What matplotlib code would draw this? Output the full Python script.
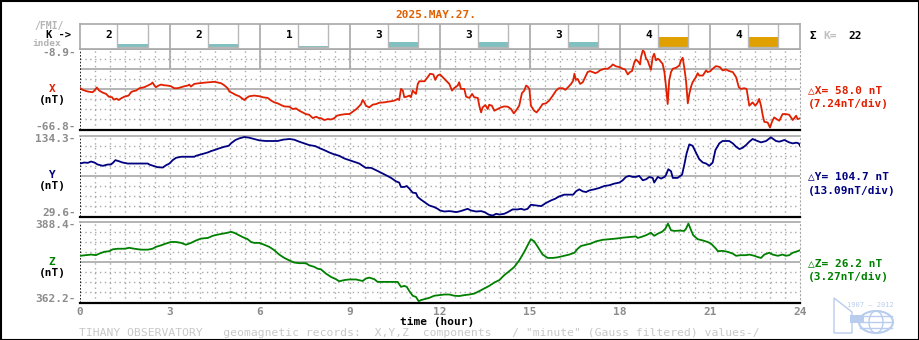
import numpy as np
import matplotlib
matplotlib.use("Agg")
import matplotlib.pyplot as plt
from matplotlib.patches import Rectangle, Ellipse, Polygon

# --- data -------------------------------------------------------------
day_label = "2025.MAY.27."
k_index = [2, 2, 1, 3, 3, 3, 4, 4]          # one value per 3-hour interval
hour_ticks = [0, 3, 6, 9, 12, 15, 18, 21, 24]

x_range = (-66.8, -8.9)
y_range = (29.6, 134.3)
z_range = (362.2, 388.4)
deltas = [58.0, 104.7, 26.2]               # nT, as printed by the recorder
per_div = [7.24, 13.09, 3.27]              # nT/div

x_hour = [0.00, 0.09, 0.26, 0.42, 0.48, 0.56, 0.64, 0.76, 0.87, 0.96, 1.07, 1.12, 1.22, 1.29, 1.37,
          1.48, 1.62, 1.70, 1.76, 1.87, 1.98, 2.14, 2.26, 2.37, 2.42, 2.48, 2.53, 2.62, 2.70, 2.81,
          2.92, 3.03, 3.14, 3.26, 3.37, 3.48, 3.59, 3.64, 3.70, 3.81, 3.98, 4.20, 4.48, 4.59, 4.70,
          4.81, 4.92, 4.98, 5.09, 5.20, 5.31, 5.40, 5.48, 5.53, 5.64, 5.81, 5.98, 6.09, 6.26, 6.37,
          6.48, 6.59, 6.70, 6.81, 6.98, 7.09, 7.20, 7.31, 7.42, 7.53, 7.64, 7.76, 7.87, 7.96,
          8.03, 8.14, 8.26, 8.37, 8.48, 8.56, 8.70, 8.87, 8.98, 9.09, 9.20, 9.29, 9.37, 9.42, 9.48,
          9.53, 9.64, 9.76, 9.87, 9.98, 10.14, 10.26, 10.37, 10.48, 10.59, 10.64, 10.70, 10.76,
          10.81, 10.89, 10.98, 11.03, 11.09, 11.14, 11.20, 11.26, 11.31, 11.48, 11.59, 11.67, 11.78,
          11.84, 11.92, 12.00, 12.09, 12.20, 12.31, 12.40, 12.48, 12.59, 12.64, 12.70, 12.81, 12.87,
          12.98, 13.07, 13.14, 13.26, 13.31, 13.37, 13.42, 13.51, 13.59, 13.64, 13.73, 13.81, 13.92,
          14.03, 14.14, 14.26, 14.37, 14.46, 14.53, 14.64, 14.73, 14.81, 14.87, 14.92, 14.98, 15.03,
          15.14, 15.22, 15.31, 15.42, 15.53, 15.64, 15.76, 15.87,
          15.96, 16.09, 16.18, 16.29, 16.37, 16.44, 16.48, 16.53, 16.59, 16.67, 16.76, 16.84, 16.92,
          17.00, 17.09, 17.18, 17.26, 17.33, 17.48, 17.59, 17.70, 17.76, 17.87, 17.98, 18.09, 18.17,
          18.26, 18.33, 18.40, 18.48, 18.53, 18.62, 18.67, 18.70, 18.76, 18.81, 18.87, 18.92, 18.98,
          19.03, 19.09, 19.14, 19.20, 19.26, 19.31, 19.37, 19.42, 19.48, 19.53, 19.59, 19.64, 19.70,
          19.76, 19.87, 19.98, 20.03, 20.09, 20.14, 20.20, 20.26, 20.31, 20.37, 20.42, 20.53, 20.59,
          20.64, 20.76, 20.87, 20.92, 21.00, 21.09, 21.20, 21.33, 21.42, 21.53, 21.64, 21.76, 21.87,
          21.96, 22.03, 22.14, 22.22, 22.31, 22.42, 22.51, 22.59, 22.64, 22.70, 22.76, 22.81, 22.92,
          23.00, 23.07, 23.14, 23.22, 23.31, 23.42, 23.53, 23.64, 23.76, 23.87, 23.92, 24.00]
x_nt = [-36.9, -38.3, -39.5, -40.0, -38.8, -36.6, -38.8, -40.3, -41.2, -43.2, -43.6, -45.3, -44.6, -45.6, -44.4,
        -43.2, -42.4, -40.0, -39.3, -38.8, -37.1, -36.4, -35.2, -34.0, -33.0, -35.2, -36.4, -35.2, -34.5, -35.0,
        -35.2, -35.7, -37.1, -37.1, -36.4, -35.7, -35.2, -34.5, -35.9, -34.0, -33.5, -33.0, -32.5, -33.0, -33.5,
        -35.0, -37.1, -39.5, -40.7, -42.0, -42.9, -44.4, -45.6, -44.4, -42.9, -42.4, -42.9, -43.6, -44.1, -46.0,
        -47.3, -48.0, -49.2, -50.2, -50.4, -52.1, -51.6, -53.3, -54.5, -55.7, -56.2, -58.6, -57.6, -58.6,
        -58.6, -60.0, -59.3, -59.6, -58.6, -56.9, -56.2, -55.7, -55.7, -54.0, -52.3, -50.4, -48.5, -45.6, -47.3,
        -49.7, -50.9, -48.9, -48.5, -47.5, -47.3, -46.8, -46.5, -46.0, -44.8, -45.6, -37.6, -38.8,
        -43.6, -43.2, -42.4, -43.6, -38.8, -40.0, -41.2, -34.0, -32.1, -32.1, -29.2, -26.7, -27.2,
        -31.1, -28.0, -27.2, -29.2, -31.6, -34.0, -38.8, -36.9, -35.2, -32.8, -37.6, -37.6, -43.2,
        -44.1, -41.2, -43.6, -44.1, -49.7, -54.5, -50.9, -49.2, -52.1, -49.0, -49.7, -53.3, -52.1,
        -50.9, -50.2, -50.4, -52.1, -55.2, -53.3, -49.7, -40.7, -38.8, -35.2, -35.9, -37.6, -49.7,
        -53.3, -54.5, -52.1, -48.5, -48.0, -46.0, -42.4, -38.8,
        -37.1, -37.1, -38.3, -35.9, -34.0, -31.6, -26.7, -31.1, -30.4, -34.0, -32.8, -29.2, -25.5,
        -24.8, -25.5, -26.3, -25.5, -24.3, -23.1, -23.1, -21.4, -20.0, -21.4, -21.9, -23.1, -23.6,
        -27.2, -25.5, -24.8, -18.3, -16.4, -18.3, -20.0, -14.7, -9.9, -11.1, -15.9, -17.1, -20.7,
        -23.9, -14.7, -12.3, -17.1, -15.9, -16.6, -18.3, -19.5, -25.5, -35.2, -48.5, -31.6, -25.5,
        -23.1, -22.4, -20.7, -17.1, -15.2, -21.9, -31.6, -48.0, -41.2, -35.9, -32.8, -29.2, -26.3,
        -28.0, -28.0, -24.3, -25.5, -25.0, -23.1, -21.2, -21.9, -24.3, -23.6, -24.8, -25.5, -29.2,
        -36.4, -37.6, -37.1, -37.6, -49.7, -47.3, -49.7, -47.3, -44.8, -49.7, -56.9, -61.3, -61.7,
        -65.4, -61.0, -58.1, -59.3, -60.5, -55.7, -55.7, -56.2, -60.0, -56.9, -59.3, -58.8]

y_hour = [0.00, 0.14, 0.26, 0.37, 0.48, 0.59, 0.76, 0.92, 1.03, 1.11, 1.18, 1.29, 1.42, 1.59, 1.76,
          1.98, 2.26, 2.31, 2.44, 2.59, 2.76, 2.87, 2.98, 3.09, 3.20, 3.37, 3.53, 3.81, 3.87, 4.03,
          4.26, 4.37, 4.48, 4.64, 4.81, 4.96, 5.03, 5.18, 5.31, 5.48, 5.64, 5.81, 5.98, 6.20, 6.42,
          6.59, 6.76, 6.98, 7.14, 7.31, 7.48, 7.64, 7.84, 7.98, 8.14, 8.31, 8.48, 8.64, 8.81, 8.98,
          9.14, 9.31, 9.42, 9.53, 9.70, 9.87, 10.03, 10.20, 10.37, 10.53, 10.64, 10.70, 10.81, 10.89,
          10.98, 11.09, 11.20, 11.26, 11.37, 11.48, 11.64, 11.81, 11.92, 12.00, 12.14, 12.31, 12.42,
          12.53, 12.64, 12.76, 12.92, 13.03, 13.20, 13.37, 13.48, 13.64, 13.76, 13.87, 13.98, 14.14,
          14.26, 14.42, 14.59, 14.70, 14.81, 14.92, 15.03, 15.20, 15.37, 15.53, 15.70, 15.84, 15.96,
          16.07, 16.14, 16.31, 16.44, 16.53, 16.64, 16.76, 16.87, 16.98, 17.14, 17.31, 17.48, 17.64,
          17.81, 17.98, 18.09, 18.20, 18.31, 18.42, 18.53, 18.64, 18.76, 18.87, 18.98, 19.09, 19.14,
          19.26, 19.37, 19.48, 19.53, 19.61, 19.70, 19.76, 19.92, 20.07, 20.14, 20.22, 20.31, 20.42,
          20.53, 20.64, 20.76, 20.87, 20.98, 21.09, 21.18, 21.31, 21.42, 21.64, 21.76, 21.87, 21.98,
          22.09, 22.20, 22.31, 22.42, 22.53, 22.70, 22.87, 23.03, 23.20, 23.31, 23.48, 23.64, 23.76,
          23.87, 23.96, 24.00]
y_nt = [98.5, 99.8, 99.4, 101.1, 99.8, 97.2, 95.5, 97.2, 97.2, 99.8, 102.9, 101.6, 99.8, 98.5, 98.5,
        98.5, 98.5, 97.2, 95.5, 93.7, 93.3, 96.3, 98.5, 102.9, 105.9, 107.3, 107.3, 107.3, 108.6, 110.3,
        112.9, 114.7, 116.0, 118.2, 120.3, 121.6, 124.7, 129.1, 131.2, 133.0, 132.1, 130.4, 128.6, 127.8, 127.8,
        127.8, 129.5, 130.4, 129.5, 126.9, 124.7, 122.5, 121.2, 118.6, 116.0, 112.9, 110.3, 108.6, 105.1, 102.9,
        100.7, 98.5, 95.5, 92.9, 92.9, 89.8, 86.7, 83.3, 79.8, 75.4, 73.7, 68.0, 68.0, 69.3,
        65.8, 60.6, 60.1, 54.9, 51.4, 48.4, 44.0, 41.8, 39.6, 37.5, 36.1, 36.6, 36.1,
        35.3, 36.1, 37.5, 39.6, 37.5, 36.1, 36.6, 35.3, 31.8, 30.9, 33.1, 32.2, 33.1,
        35.3, 38.8, 38.8, 39.6, 38.3, 39.6, 44.9, 44.0, 43.1, 47.1, 50.5, 52.7, 55.5,
        57.1, 58.0, 58.0, 58.0, 62.3, 64.9, 62.3, 61.4, 63.6, 64.9, 66.7, 69.3, 70.2,
        72.4, 73.7, 76.7, 81.1, 82.4, 81.1, 81.1, 82.4, 76.7, 78.0, 81.1, 79.8, 73.7,
        81.1, 78.9, 81.1, 83.3, 91.1, 88.5, 79.8, 79.8, 84.1, 96.3, 111.6, 123.4, 121.6,
        112.9, 104.2, 99.8, 98.5, 95.5, 99.8, 116.0, 124.7, 127.8, 127.8, 124.7, 120.3, 117.3,
        119.0, 122.5, 126.9, 130.4, 128.6, 126.0, 127.8, 132.6, 127.8, 126.9, 129.1, 126.0, 124.7,
        125.6, 124.7, 121.6]

z_hour = [0.00, 0.20, 0.37, 0.53, 0.64, 0.81, 0.98, 1.09, 1.26, 1.48, 1.64, 1.81, 2.03, 2.26, 2.42,
          2.53, 2.70, 2.87, 3.03, 3.20, 3.37, 3.53, 3.70, 3.87, 4.03, 4.26, 4.42, 4.59, 4.76, 4.92,
          5.03, 5.14, 5.26, 5.42, 5.59, 5.70, 5.81, 5.98, 6.14, 6.31, 6.48, 6.64, 6.81, 6.98, 7.14,
          7.31, 7.53, 7.64, 7.81, 7.92, 8.03, 8.20, 8.37, 8.53, 8.64, 8.81, 8.98, 9.20, 9.42, 9.53,
          9.64, 9.81, 9.92, 10.09, 10.26, 10.48, 10.59, 10.70, 10.81, 10.89, 10.98, 11.09, 11.20,
          11.29, 11.37, 11.48, 11.64, 11.81, 11.98, 12.14, 12.31, 12.48, 12.64, 12.81, 12.98, 13.14,
          13.31, 13.48, 13.64, 13.81, 13.98, 14.14, 14.31, 14.48, 14.64, 14.81, 14.92, 15.03, 15.14,
          15.26, 15.42, 15.59, 15.76, 15.92, 16.09, 16.31, 16.48, 16.59, 16.70, 16.87, 17.03, 17.20,
          17.42, 17.64, 17.87, 18.09, 18.31, 18.53, 18.59, 18.70, 18.87, 19.03, 19.14, 19.26, 19.40,
          19.51, 19.60, 19.70, 19.81, 19.98, 20.14, 20.20, 20.28, 20.37, 20.44, 20.59, 20.76, 20.92,
          21.03, 21.20, 21.26, 21.42, 21.59, 21.76, 21.87, 22.03, 22.20, 22.31, 22.48, 22.59, 22.70,
          22.81, 22.98, 23.09, 23.26, 23.42, 23.53, 23.64, 23.76, 23.92, 24.00]
z_nt = [377.4, 377.6, 377.8, 377.6, 378.1, 378.7, 378.9, 379.5, 379.7, 379.7, 380.0, 379.7, 379.4, 379.4, 379.7,
        380.3, 380.8, 381.4, 381.9, 381.9, 381.6, 381.0, 381.6, 382.4, 383.0, 383.2, 383.9, 384.3, 384.6, 384.9,
        385.2, 384.9, 384.3, 383.5, 382.8, 381.9, 381.6, 381.6, 381.0, 380.3, 379.2, 377.8, 376.7, 375.9, 375.2,
        375.0, 375.0, 374.3, 373.8, 373.2, 373.0, 371.6, 370.5, 369.8, 369.1, 369.5, 369.7, 369.7, 369.2, 370.0,
        370.3, 369.8, 368.9, 368.9, 368.9, 368.9, 368.9, 367.3, 367.6, 367.3, 365.9, 364.4, 364.0,
        362.6, 363.0, 363.3, 363.7, 364.4, 364.6, 364.8, 364.8, 364.4, 364.3, 364.6, 364.8, 365.1,
        365.9, 366.8, 367.6, 368.7, 369.5, 371.1, 372.4, 373.8, 375.9, 378.7, 380.8, 382.8, 382.1,
        380.3, 377.8, 376.7, 376.7, 376.9, 377.3, 377.8, 378.4, 379.7, 380.6, 381.0, 381.4, 382.1,
        382.6, 382.8, 383.0, 383.3, 383.5, 383.7, 383.2, 383.5, 384.1, 384.9, 383.9, 384.6, 385.2,
        386.2, 387.9, 385.7, 385.5, 385.6, 385.5, 386.2, 387.9, 385.7, 384.1, 382.8, 382.4, 381.9,
        381.4, 379.7, 378.9, 379.0, 378.7, 378.1, 377.4, 377.6, 377.6, 377.8, 377.4, 377.0, 376.7,
        377.8, 378.4, 377.8, 377.4, 377.8, 377.4, 377.6, 378.4, 378.9, 379.2]

# --- layout (pixels, origin top-left) ---------------------------------
W, H = 920, 340
GRID = "#A8A8A8"
TICK = "#8C8C8C"
DOT = (0, (1, 2.5))
FS = 8

plt.rcParams["font.family"] = ["DejaVu Sans Mono", "DejaVu Sans"]
plt.rcParams["font.weight"] = "bold"

fig = plt.figure(figsize=(W / 100, H / 100), dpi=100)


def box(x0, y0, x1, y1):
    return [x0 / W, 1 - y1 / H, (x1 - x0) / W, (y1 - y0) / H]


def panel(rect, hours, vals, rng, color, solid_divs=(4,)):
    ax = fig.add_axes(box(*rect))
    lo, hi = rng
    div = (hi - lo) / 8
    for i in range(1, 8):
        if i in solid_divs:
            ax.axhline(lo + i * div, color=GRID, lw=1.2, zorder=1)
        else:
            ax.axhline(lo + i * div, color=GRID, lw=1, ls=DOT, zorder=1)
    for h in np.arange(0.5, 24, 0.5):
        ax.axvline(h, color=GRID, lw=1, ls=DOT, zorder=1)
    ax.axvline(0, color="black", lw=1.2, ls=(0, (1, 1)), zorder=2)
    ax.plot(hours, vals, color=color, lw=1.3, zorder=3)
    ax.set_xlim(0, 24)
    ax.set_ylim(lo, hi)
    ax.spines["top"].set_color(GRID)
    ax.spines["top"].set_linewidth(1.2)
    ax.spines["bottom"].set_color("black")
    ax.spines["bottom"].set_linewidth(1.6)
    ax.spines["left"].set_visible(False)
    ax.spines["right"].set_color(GRID)
    ax.spines["right"].set_linestyle(DOT)
    ax.set_yticks([])
    ax.set_xticks([])
    # range labels sit just inside the top and bottom lines
    ax.annotate(f"{hi:.1f}-", (0, 1), xycoords="axes fraction", xytext=(-4, -3.5),
                textcoords="offset pixels", ha="right", va="center", fontsize=FS, color=TICK)
    ax.annotate(f"{lo:.1f}-", (0, 0), xycoords="axes fraction", xytext=(-4, 3),
                textcoords="offset pixels", ha="right", va="center", fontsize=FS, color=TICK)
    return ax


ax_x = panel((80, 49, 800, 129.5), x_hour, x_nt, x_range, "#E02000", solid_divs=(4, 6))
ax_x.vlines(hour_ticks[1:-1], x_range[0] + 6 * (x_range[1] - x_range[0]) / 8, x_range[1],
            color=GRID, lw=1.2, zorder=1)
ax_y = panel((80, 136, 800, 216.5), y_hour, y_nt, y_range, "#000080")
ax_z = panel((80, 222, 800, 302.5), z_hour, z_nt, z_range, "#008000")
ax_z.set_xticks(hour_ticks)
ax_z.set_xticklabels([str(h) for h in hour_ticks])
ax_z.tick_params(axis="x", length=0, pad=3.5, labelsize=FS, labelcolor=TICK)

# K-index strip
ax_k = fig.add_axes(box(80, 24, 800, 49))
ax_k.set_xlim(0, 24)
ax_k.set_ylim(25, 0)
ax_k.set_xticks([])
ax_k.set_yticks([])
for s in ax_k.spines.values():
    s.set_color(GRID)
    s.set_linewidth(1.2)
k_limits = [0, 5, 10, 20, 40, 70, 120, 200, 330, 500]
for i, k in enumerate(k_index):
    x0 = 3 * i
    if i:
        ax_k.axvline(x0, color=GRID, lw=1.2)
    ax_k.text(x0 + 0.97, 11.5, str(k), ha="center", va="center", fontsize=FS, color="black")
    hgt = k_limits[k] * 0.24
    ax_k.add_patch(Rectangle((x0 + 1.25, 22.7 - hgt), 1, hgt,
                             color="#E0A000" if k >= 4 else "#80C0C0", lw=0))
    ax_k.add_patch(Rectangle((x0 + 1.25, -1), 1, 23.7, fill=False, ec="#B8B8B8", lw=1))

# free text, frame and logo on a transparent overlay in pixel units
ov = fig.add_axes([0, 0, 1, 1], facecolor="none")
ov.set_xlim(0, W)
ov.set_ylim(H, 0)
ov.axis("off")

ov.text(436, 15, day_label, ha="center", va="center", fontsize=FS, color="#E06000")
ov.text(49, 26.5, "/FMI/", ha="center", va="center", fontsize=7, color="#B4B4B4")
ov.text(59, 35, "K ->", ha="center", va="center", fontsize=7.5, color="black")
ov.text(47, 43, "index", ha="center", va="center", fontsize=6.8, color="#B4B4B4")

ov.text(810, 36, "Σ", ha="left", va="center", fontsize=FS, color="black")
ov.text(823, 36, "K=", ha="left", va="center", fontsize=FS, color="#C0C0C0")
ov.text(848, 36, f"{sum(k_index)}", ha="left", va="center", fontsize=FS, color="black")

for name, color, dlt, pdv, ylab, yd in [("X", "#E02000", deltas[0], per_div[0], 89, 104),
                                        ("Y", "#000080", deltas[1], per_div[1], 175, 191),
                                        ("Z", "#008000", deltas[2], per_div[2], 262, 277)]:
    ov.text(52, ylab, name, ha="center", va="center", fontsize=FS, color=color)
    ov.text(52, ylab + 11, "(nT)", ha="center", va="center", fontsize=FS, color="black")
    ov.text(808, ylab + 1, f"△{name}= {dlt:.1f} nT", ha="left", va="center",
            fontsize=FS, color=color)
    ov.text(808, yd, f"({pdv:.2f}nT/div)", ha="left", va="center", fontsize=FS, color=color)

ov.text(437, 322, "time (hour)", ha="center", va="center", fontsize=FS, color="black")
ov.text(79, 333, 'TIHANY OBSERVATORY   geomagnetic records:  X,Y,Z  components'
                 '   / "minute" (Gauss filtered) values-/',
        ha="left", va="center", fontsize=8.2, color="#C8C8C8", fontweight="normal")

# observatory logo
LOGO = "#B8CCEE"
ov.text(870, 305, "1907 — 2012", ha="center", va="center", fontsize=5, color=LOGO,
        fontweight="normal")
ov.add_patch(Polygon([(834, 298), (852, 312), (852, 333), (834, 333)], closed=True,
                     fill=False, ec=LOGO, lw=1))
ov.add_patch(Ellipse((876, 322), 34, 22, fill=False, ec=LOGO, lw=1.5))
ov.add_patch(Ellipse((876, 322), 14, 22, fill=False, ec=LOGO, lw=1))
for dy in (-6, 0, 6):
    ov.plot([860, 892], [322 + dy, 322 + dy], color=LOGO, lw=1)
ov.add_patch(Rectangle((850, 315), 14, 8, color=LOGO, lw=0))

ov.add_patch(Rectangle((0.5, 0.5), W - 1, H - 1, fill=False, ec="black", lw=1.5))

fig.savefig("out.png", dpi=100)
